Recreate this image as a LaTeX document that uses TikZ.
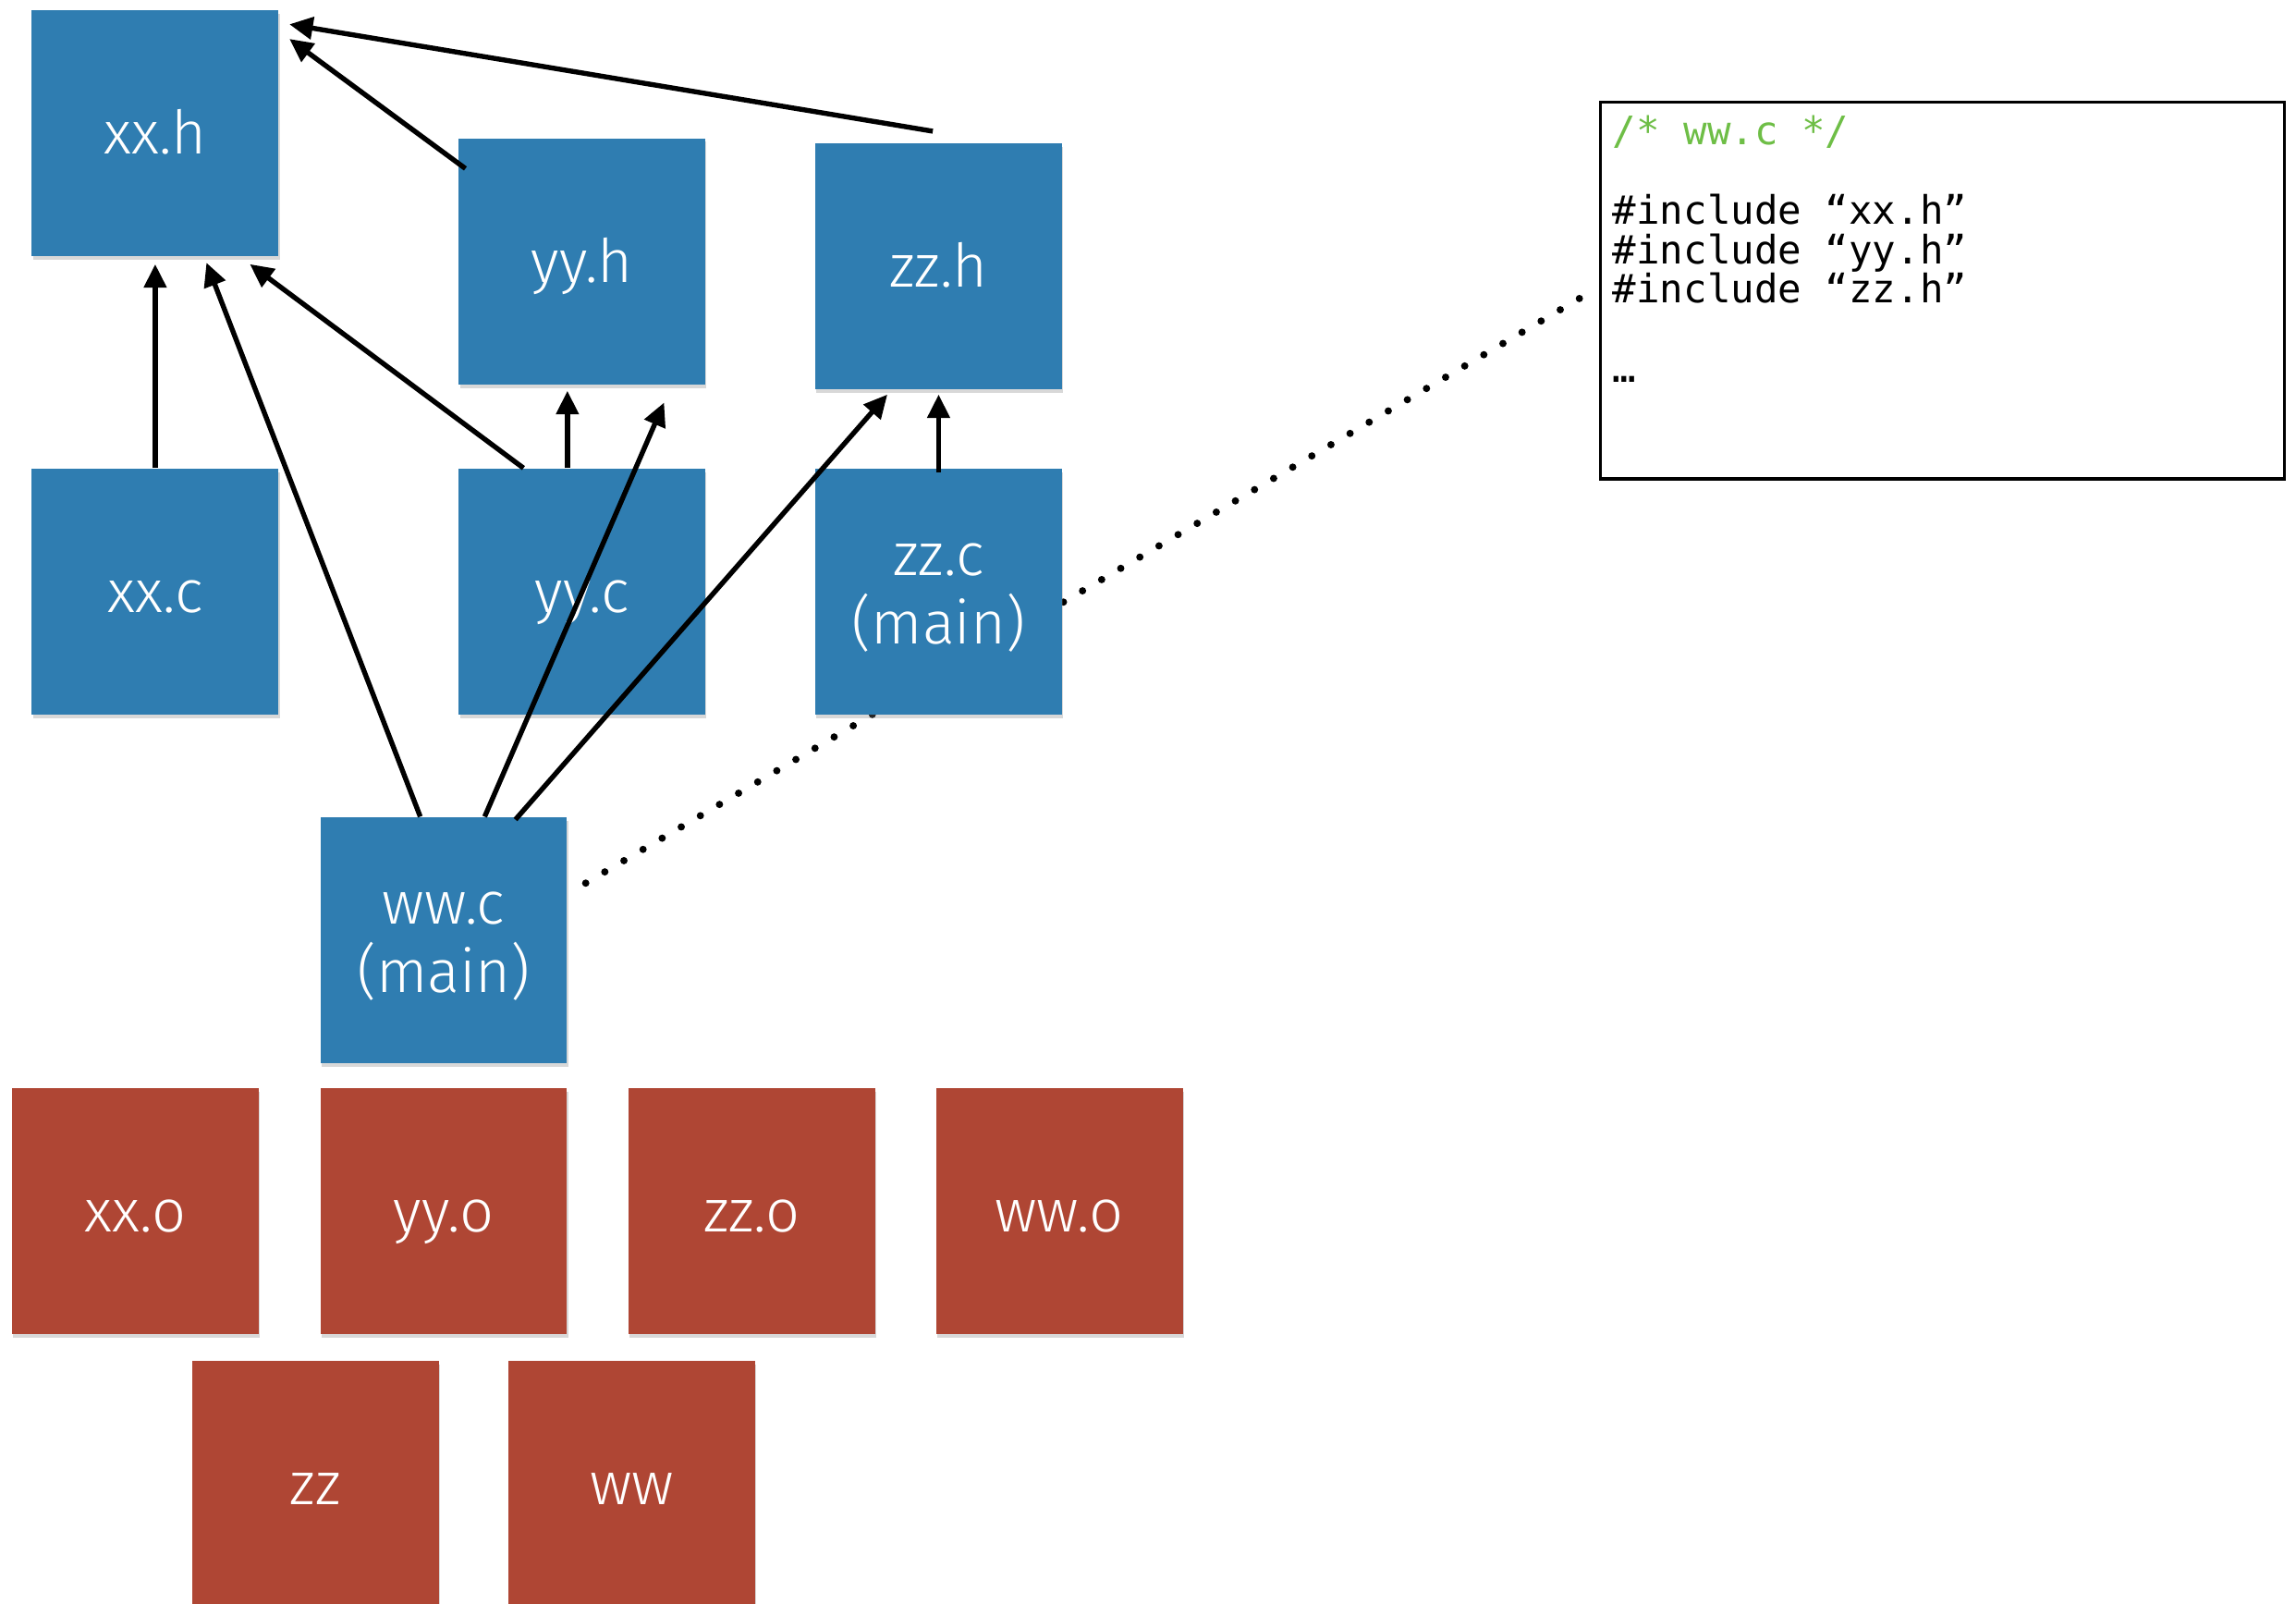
\documentclass[tikz,border=0pt]{standalone}
\usepackage{fontspec}
\usetikzlibrary{arrows.meta,calc,shadows}
\newfontfamily\lblfont{Fira Sans Light}
\newfontfamily\codefont{DejaVu Sans Mono}
\definecolor{boxblue}{RGB}{47,125,177}
\definecolor{boxred}{RGB}{175,70,52}
\definecolor{cmtgreen}{RGB}{110,190,70}
\tikzset{
  filebox/.style={rectangle, minimum width=84.25pt, minimum height=84pt, inner sep=0pt,
    text=white, font=\lblfont\fontsize{20.5pt}{23.5pt}\selectfont, align=center,
    text height=15pt, text depth=0.8pt,
    drop shadow={opacity=0.3, shadow xshift=0.4pt, shadow yshift=-1.2pt}},
  twoline/.style={text height=36.5pt, text depth=0.6pt},
  srcbox/.style={filebox, fill=boxblue},
  objbox/.style={filebox, fill=boxred},
  dep/.style={line width=1.7pt, -{Triangle[length=8pt,width=7.5pt]}},
  dotline/.style={line width=2.5pt, line cap=round, dash pattern=on 0pt off 7.57pt},
  codeline/.style={anchor=base west, inner sep=0pt, font=\codefont\fontsize{13.4pt}{13.5pt}\selectfont}
}
\begin{document}
\begin{tikzpicture}[x=0.5pt,y=-0.5pt]
\useasboundingbox (0,0) rectangle (1568,1095);
\clip (0,0) rectangle (1568,1095);
\fill[white] (0,0) rectangle (1568,1095);
% code box
\node[draw, line width=1pt, minimum width=233.5pt, minimum height=128.5pt, inner sep=0pt] (code) at (1326.5,198.5) {};
% dotted line (behind boxes)
\coordinate (dotA) at (400,603);
\draw[dotline] (dotA) -- ($(code.west)+(-12,4.5)$);
% source boxes
\node[srcbox] (xxh) at (106,91) {xx.h};
\node[srcbox] (yyh) at (397.5,178.5) {yy.h};
\node[srcbox] (zzh) at (641,182) {zz.h};
\node[srcbox] (xxc) at (106,404) {xx.c};
\node[srcbox] (yyc) at (397.5,404) {yy.c};
\node[srcbox, twoline] (zzc) at (641,404) {zz.c\\(main)};
\node[srcbox, twoline] (wwc) at (303,642) {ww.c\\(main)};
% object boxes
\node[objbox] (xxo) at (92.5,827) {xx.o};
\node[objbox] (yyo) at (303,827) {yy.o};
\node[objbox] (zzo) at (513.5,827) {zz.o};
\node[objbox] (wwo) at (723.5,827) {ww.o};
\node[objbox] (zz) at (215.5,1013) {zz};
\node[objbox] (ww) at (431.5,1013) {ww};
% dependency arrows
\draw[dep] ($(zzh.north)+(-4,-8)$) -- ($(xxh.north east)+(7,10)$);
\draw[dep] ($(yyh.north west)+(5,21)$) -- ($(xxh.north east)+(7,20)$);
\draw[dep] (xxc.north) -- ($(xxh.south)+(0,5)$);
\draw[dep] ($(wwc.north)+(-16,0)$) -- ($(xxh.south)+(35,4)$);
\draw[dep] ($(yyc.north)+(-40,0)$) -- ($(xxh.south east)+(-20,5)$);
\draw[dep] ($(yyc.north)+(-10,0)$) -- ($(yyh.south)+(-10,4)$);
\draw[dep] ($(wwc.north)+(28,0)$) -- ($(yyh.south)+(56,12)$);
\draw[dep] ($(wwc.north)+(49,2)$) -- ($(zzh.south)+(-35,3)$);
\draw[dep] ($(zzc.north)+(0,3)$) -- ($(zzh.south)+(0,3)$);
% code text
\node[codeline, text=cmtgreen] (c1) at (1101,99) {/* ww.c */};
\node[codeline] (c2) at (1101,153) {\#include “xx.h”};
\node[codeline] (c3) at (1101,180) {\#include “yy.h”};
\node[codeline] (c4) at (1101,207) {\#include “zz.h”};
\node[codeline] (c5) at (1101,261) {…};
\end{tikzpicture}
\end{document}
